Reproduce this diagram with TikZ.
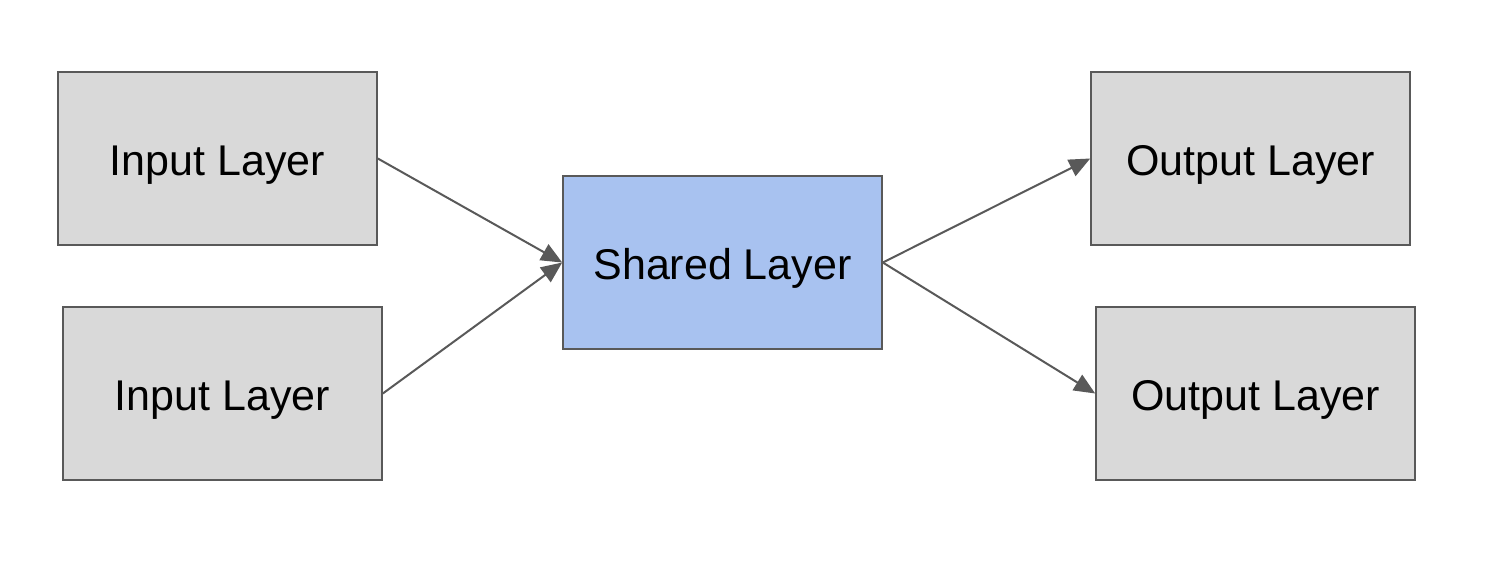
\documentclass[tikz,border=0pt]{standalone}
\usepackage{fontspec}
\setmainfont{Liberation Sans}
\usetikzlibrary{arrows.meta}
\definecolor{boxgray}{HTML}{D9D9D9}
\definecolor{boxblue}{HTML}{A8C2F0}
\definecolor{edge}{HTML}{595959}
\begin{document}
\begin{tikzpicture}[x=1pt,y=-1pt,
  layerbox/.style={draw=edge, line width=1.6pt, fill=boxgray, minimum width=319pt, minimum height=173pt, inner sep=0pt, text height=33pt, text depth=0pt, font=\fontsize{43}{50}\selectfont, text=black},
  sharedbox/.style={layerbox, fill=boxblue},
  conn/.style={draw=edge, line width=2pt, -{Triangle[length=21pt,width=18pt]}}]
\useasboundingbox (0,0) rectangle (1494,574);
\node[layerbox] (in1) at (217.5,158.5) {Input Layer};
\node[layerbox] (in2) at (222.5,393.5) {Input Layer};
\node[sharedbox] (sh) at (722.5,262.5) {Shared Layer};
\node[layerbox] (out1) at (1250.5,158.5) {Output Layer};
\node[layerbox] (out2) at (1255.5,393.5) {Output Layer};
\draw[conn] (in1.east) -- (sh.west);
\draw[conn] (in2.east) -- (sh.west);
\draw[conn] (sh.east) -- (out1.west);
\draw[conn] (sh.east) -- (out2.west);
\end{tikzpicture}
\end{document}
